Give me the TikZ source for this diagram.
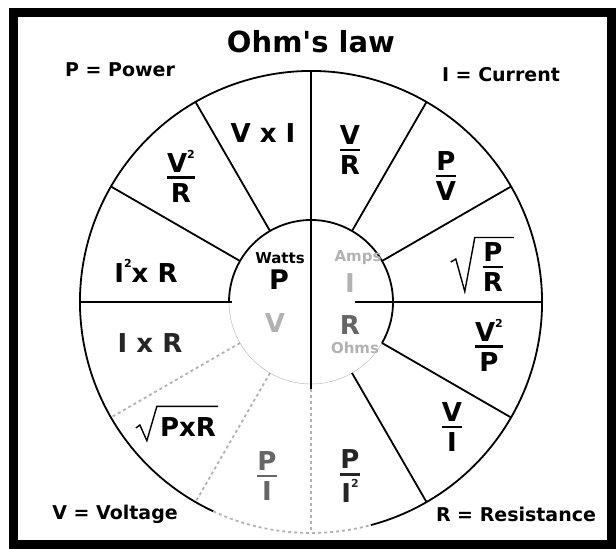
\documentclass[tikz,border=0pt]{standalone}
\usepackage{fontspec}
\setmainfont{DejaVu Sans}

\colorlet{faint}{black!30}
\colorlet{dim}{black!60}

% fraction with a heavy bar, a small raised 2, a straight quote
\newcommand{\frc}[2]{\vbox{\halign{\hfil##\hfil\cr #1\cr\noalign{\kern4pt\hrule height 2.6pt\kern4pt}#2\cr}}}
\newcommand{\sqr}{\raisebox{0.55em}{\fontsize{11}{11}\selectfont 2}}
\newcommand{\apos}{\XeTeXglyph\XeTeXcharglyph"27\relax}

\tikzset{
  lbl/.style={font=\bfseries\fontsize{19}{19}\selectfont, inner sep=0pt},
  big/.style={font=\bfseries\fontsize{26}{26}\selectfont, inner sep=0pt},
  small/.style={font=\bfseries\fontsize{15}{15}\selectfont, inner sep=0pt},
  spoke/.style={line width=1.8pt},
  radical/.style={line width=1.4pt, line join=miter},
}

\begin{document}
\begin{tikzpicture}[x=1pt,y=1pt]
\useasboundingbox (0,0) rectangle (616,549);

% === frame ===
\draw[line width=9pt] (13,4) rectangle (611,536);

% titles
\node[font=\bfseries\fontsize{29}{29}\selectfont] (title) at (311,507) {Ohm\apos s law};
\node[lbl] (power)   at (120,479) {P = Power};
\node[lbl] (current) at (501,474) {I = Current};
\node[lbl] (voltage) at (115,35)  {V = Voltage};
\node[lbl] (resist)  at (516,35)  {R = Resistance};

% === wheel ===
\begin{scope}[shift={(311,247)}]
  % rings
  \draw[spoke] (285:231pt) arc (285:605:231pt);
  \draw[spoke,faint,dashed] (245:231pt) arc (245:285:231pt);
  \draw[spoke] (-30:82pt) arc (-30:180:82pt);
  \draw[faint] (180:82pt) arc (180:330:82pt);

  % spokes
  \foreach \a in {30,60,120,150,-30,-60} {
    \draw[spoke] (\a:82pt) -- (\a:231pt);
  }
  \foreach \a in {210,240} {
    \draw[spoke,faint,dashed] (\a:82pt) -- (\a:231pt);
  }
  \draw[spoke] (0,231) -- (0,-87);
  \draw[spoke,faint,dashed] (0,-87) -- (0,-231);
  \draw[spoke] (-231,0) -- (-79,0);
  \draw[spoke] (44,0) -- (231,0);

  % centre
  \node[small] (watts) at (-31,44) {Watts};
  \node[font=\bfseries\fontsize{27}{27}\selectfont] (p) at (-32,22) {P};
  \node[small,faint] (amps) at (47,44) {Amps};
  \node[big,faint] (i) at (39,19) {I};
  \node[big,faint] (v) at (-36,-21) {V};
  \node[big,dim] (r) at (39,-23) {R};
  \node[small,faint] (ohms) at (44,-46) {Ohms};

  % formulas
  \node[big] (vi)   at (-48,169)  {V x I};
  \node[big] (vr)   at (39,152)   {\frc{V}{R}};
  \node[big] (pv)   at (135,126)  {\frc{P}{V}};
  \node[big] (vvr)  at (-130,126) {\frc{V\sqr}{R}};
  \node[big] (iir)  at (-165,31)  {I\sqr x R};
  \node[big] (spr)  at (182,35)   {\frc{P}{R}};
  \draw[radical] ([xshift=-32pt,yshift=5pt]spr.west) -- ([xshift=-27pt,yshift=8pt]spr.west)
    -- ([xshift=-18pt]spr.south west) -- ([xshift=-8pt,yshift=5pt]spr.north west)
    -- ([xshift=11pt,yshift=5pt]spr.north east);
  \node[big,black!85] (ir) at (-161,-41) {I x R};
  \node[big] (vvp)  at (178,-43)  {\frc{V\sqr}{P}};
  \node[big] (sqpr) at (-123,-125) {PxR};
  \draw[radical] ([xshift=-24pt,yshift=-1pt]sqpr.west) -- ([xshift=-20pt,yshift=2pt]sqpr.west)
    -- ([xshift=-13pt,yshift=-4pt]sqpr.south west) -- ([xshift=-3pt,yshift=11pt]sqpr.north west)
    -- ([xshift=2pt,yshift=11pt]sqpr.north east);
  \node[big] (vI)   at (141,-125) {\frc{V}{I}};
  \node[big,dim] (pi) at (-44,-174) {\frc{P}{I}};
  \node[big,black!85] (pii) at (39,-174) {\frc{P}{I\sqr}};
\end{scope}

\end{tikzpicture}
\end{document}
